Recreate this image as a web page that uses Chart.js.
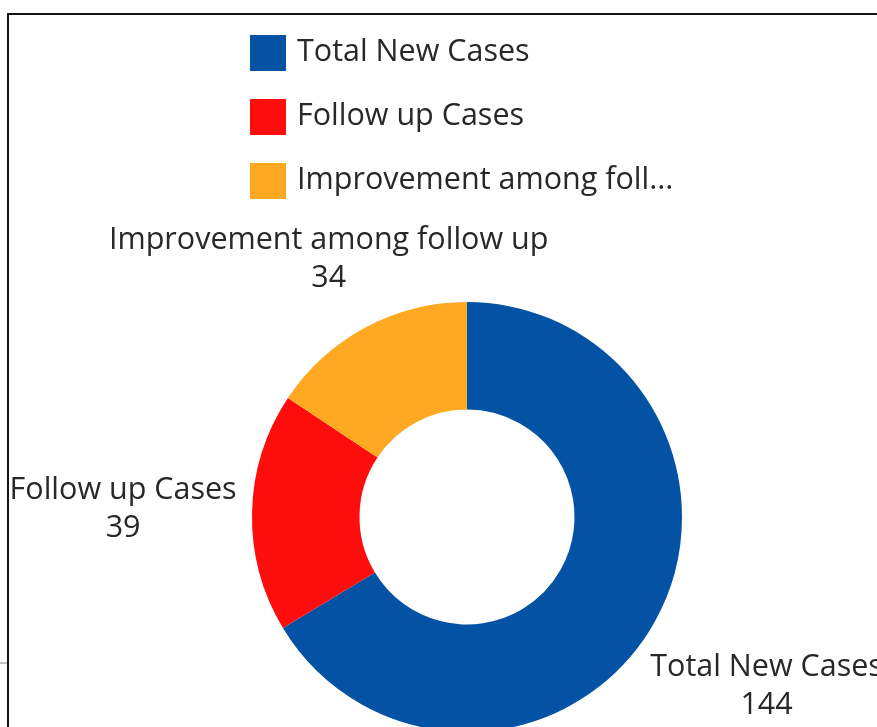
<!DOCTYPE html>
<html>
<head>
<meta charset="utf-8">
<title>Cases</title>
<script src="https://cdn.jsdelivr.net/npm/chart.js@4.4.1/dist/chart.umd.min.js"></script>
<style>
  html, body { margin: 0; padding: 0; background: #fff; overflow: hidden; }
  body { width: 877px; height: 727px; position: relative; }
  #wrap { position: absolute; left: 0; top: 0; width: 877px; height: 850px; }
  #frame {
    position: absolute; left: 7px; top: 13px; width: 2000px; height: 2000px;
    border-left: 2px solid #141414; border-top: 2px solid #141414;
    pointer-events: none;
  }
  #tick {
    position: absolute; left: 0; top: 662px; width: 7px; height: 2px; background: #c4c4c4;
  }
</style>
</head>
<body>
<div id="wrap"><canvas id="casesChart" width="877" height="850"></canvas></div>
<div id="frame"></div>
<div id="tick"></div>
<script>
// Case counts
const categories = ['Total New Cases', 'Follow up Cases', 'Improvement among follow up'];
const caseCounts = [144, 39, 34];
const sliceColors = ['#0452A4', '#FF0D0D', '#FFA923'];

const FONT = '30.5px "Open Sans", sans-serif';
const TEXT_COLOR = '#282828';

// legend drawn as a vertical list above the doughnut
const listLegend = {
  id: 'listLegend',
  afterDraw(chart) {
    const ctx = chart.ctx;
    const colors = chart.data.datasets[0].backgroundColor;
    ctx.save();
    ctx.font = FONT;
    ctx.textBaseline = 'middle';
    ctx.textAlign = 'left';
    chart.data.labels.forEach((label, i) => {
      const top = 35 + i * 64;
      ctx.fillStyle = colors[i];
      ctx.fillRect(250, top, 36, 36);
      let text = label;
      if (text.length > 22) text = text.slice(0, 22) + '...';
      ctx.fillStyle = TEXT_COLOR;
      ctx.fillText(text, 297, top + 17);
    });
    ctx.restore();
  }
};

// name + value written outside each slice, along its bisector
const outsideLabels = {
  id: 'outsideLabels',
  afterDraw(chart) {
    const ctx = chart.ctx;
    const meta = chart.getDatasetMeta(0);
    const values = chart.data.datasets[0].data;
    const lineH = 38;
    const minTop = 221; // keep clear of the legend
    ctx.save();
    ctx.font = FONT;
    ctx.fillStyle = TEXT_COLOR;
    ctx.textAlign = 'center';
    ctx.textBaseline = 'middle';
    meta.data.forEach((arc, i) => {
      const p = arc.getProps(['x', 'y', 'startAngle', 'endAngle', 'outerRadius'], true);
      const mid = (p.startAngle + p.endAngle) / 2;
      const dx = Math.cos(mid), dy = Math.sin(mid);
      let dist = p.outerRadius * 1.6;
      let cy = p.y + dy * dist;
      if (cy - lineH < minTop && dy < 0) {
        dist = (minTop + lineH - p.y) / dy;
        cy = p.y + dy * dist;
      }
      const cx = p.x + dx * dist;
      ctx.fillText(chart.data.labels[i], cx, cy - lineH / 2);
      ctx.fillText(String(values[i]), cx, cy + lineH / 2);
    });
    ctx.restore();
  }
};

new Chart(document.getElementById('casesChart'), {
  type: 'doughnut',
  data: {
    labels: categories,
    datasets: [{
      data: caseCounts,
      backgroundColor: sliceColors,
      borderWidth: 0
    }]
  },
  options: {
    responsive: false,
    animation: false,
    cutout: '50%',
    layout: { padding: { left: 252, right: 195, top: 302, bottom: 118 } },
    plugins: {
      legend: { display: false },
      tooltip: { enabled: false }
    }
  },
  plugins: [listLegend, outsideLabels]
});
</script>
</body>
</html>
